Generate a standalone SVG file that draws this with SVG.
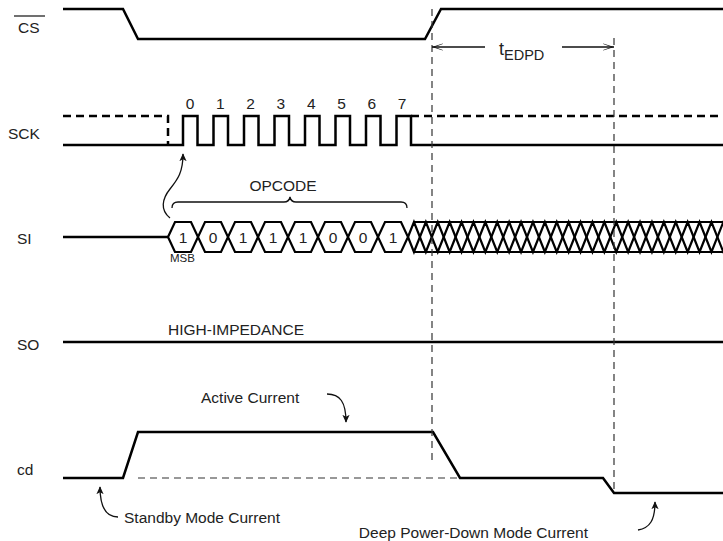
<svg xmlns="http://www.w3.org/2000/svg" xmlns:xlink="http://www.w3.org/1999/xlink" width="723" height="541" viewBox="0 0 723 541">
<style>
.w{fill:none;stroke:#000;stroke-width:2.5;stroke-linejoin:miter}
.wd{fill:none;stroke:#000;stroke-width:2.5;stroke-dasharray:8 5}
.gd{fill:none;stroke:#333;stroke-width:1.2;stroke-dasharray:7 5}
.thin{fill:none;stroke:#111;stroke-width:1.3}
.hx{fill:#fff;stroke:#000;stroke-width:2.2;stroke-linejoin:miter}
.hatch{fill:none;stroke:#000;stroke-width:2.2;stroke-linejoin:miter}
text{font-family:"Liberation Sans",Arial,sans-serif;fill:#222;font-size:15.5px}
.c{text-anchor:middle}
.sm{font-size:11.5px}
</style>
<defs>
<marker id="ah" viewBox="0 0 10 10" refX="9" refY="5" markerWidth="8" markerHeight="8" markerUnits="userSpaceOnUse" orient="auto">
<path d="M0,0.5 L10,5 L0,9.5 L2.5,5 Z" fill="#111"/>
</marker>
<marker id="ta" viewBox="0 0 12 10" refX="12" refY="5" markerWidth="12" markerHeight="9" markerUnits="userSpaceOnUse" orient="auto">
<path d="M0,1 L12,5 L0,9 L0,8.2 L9,5 L0,1.8 Z" fill="#111"/>
</marker>
<path id="hex" d="M0,0 L7,-15 L23,-15 L30,0 L23,15 L7,15 Z"/>
</defs>

<g id="labels">
<text x="18" y="32.5">CS</text>
<line x1="14" y1="16" x2="45" y2="16" stroke="#222" stroke-width="1.3"/>
<text x="8" y="138.5">SCK</text>
<text x="17" y="243.5">SI</text>
<text x="17" y="349.5">SO</text>
<text x="17" y="475">cd</text>
</g>

<g id="sig-cs">
<path class="w" d="M63,9 L123,9 L138,39 L425,39 L441,9 L723,9"/>
</g>

<g id="sig-sck">
<path class="wd" d="M63,116 L168,116 L168,145"/>
<path class="wd" d="M411,116 L723,116"/>
<path class="w" d="M63,145 L183,145 V116 H197.5 V145 H213.5 V116 H228 V145 H244 V116 H258.5 V145 H274.5 V116 H289 V145 H305 V116 H319.5 V145 H335.5 V116 H350 V145 H366 V116 H380.5 V145 H396.5 V116 H411 V145 H723"/>
<g id="sck-numbers" class="c">
<text x="190" y="108.5">0</text>
<text x="220.3" y="108.5">1</text>
<text x="250.6" y="108.5">2</text>
<text x="280.9" y="108.5">3</text>
<text x="311.2" y="108.5">4</text>
<text x="341.5" y="108.5">5</text>
<text x="371.8" y="108.5">6</text>
<text x="402.1" y="108.5">7</text>
</g>
</g>

<g id="sig-si">
<path class="w" d="M63,237 L168,237"/>
<g transform="translate(0,237)">
<use xlink:href="#hex" class="hx" x="168"/>
<use xlink:href="#hex" class="hx" x="198"/>
<use xlink:href="#hex" class="hx" x="228"/>
<use xlink:href="#hex" class="hx" x="258"/>
<use xlink:href="#hex" class="hx" x="288"/>
<use xlink:href="#hex" class="hx" x="318"/>
<use xlink:href="#hex" class="hx" x="348"/>
<use xlink:href="#hex" class="hx" x="378"/>
</g>
<g class="c">
<text x="183" y="242.5">1</text>
<text x="213" y="242.5">0</text>
<text x="243" y="242.5">1</text>
<text x="273" y="242.5">1</text>
<text x="303" y="242.5">1</text>
<text x="333" y="242.5">0</text>
<text x="363" y="242.5">0</text>
<text x="393" y="242.5">1</text>
</g>
<polyline class="hatch" points="408,237 413.95,222 425.85,252 437.75,222 449.65,252 461.55,222 473.45,252 485.35,222 497.25,252 509.15,222 521.05,252 532.95,222 544.85,252 556.75,222 568.65,252 580.55,222 592.45,252 604.35,222 616.25,252 628.15,222 640.05,252 651.95,222 663.85,252 675.75,222 687.65,252 699.55,222 711.45,252 723.35,222 735.25,252"/>
<polyline class="hatch" points="408,237 413.95,252 425.85,222 437.75,252 449.65,222 461.55,252 473.45,222 485.35,252 497.25,222 509.15,252 521.05,222 532.95,252 544.85,222 556.75,252 568.65,222 580.55,252 592.45,222 604.35,252 616.25,222 628.15,252 640.05,222 651.95,252 663.85,222 675.75,252 687.65,222 699.55,252 711.45,222 723.35,252 735.25,222"/>
<path class="hatch" d="M413.95,222 H723 M413.95,252 H723"/>
<text class="sm" x="170" y="262">MSB</text>
<path class="thin" d="M172,208 Q172,202 178,202 L284,202 Q289,202 290,197 Q291,202 296,202 L401,202 Q407,202 407,208"/>
<text class="c" x="283" y="190.5">OPCODE</text>
</g>

<g id="sig-so">
<path class="w" d="M63,342 L723,342"/>
<text x="168" y="335">HIGH-IMPEDANCE</text>
</g>

<g id="sig-icc">
<path class="gd" d="M138,478 L460,478"/>
<path class="w" d="M63,478 L123,478 L138,432 L433,432 L460,478 L603,478 L614,493 L723,493"/>
<text x="201" y="403">Active Current</text>
<text x="124" y="522.5">Standby Mode Current</text>
<text x="588" y="538" text-anchor="end">Deep Power-Down Mode Current</text>
</g>

<g id="timing">
<path class="gd" d="M432,9 L432,462"/>
<path class="gd" d="M614,38 L614,493"/>
<text x="499" y="55" style="font-size:18px">t<tspan dy="5" style="font-size:14.5px">EDPD</tspan></text>
</g>

<g id="connectors">
<path class="thin" d="M485,47 L432,47" marker-end="url(#ta)"/>
<path class="thin" d="M562,47 L614,47" marker-end="url(#ta)"/>
<path class="thin" d="M170,218 C160,210 162,199 170,189 C178,179 183,172 183,154" marker-end="url(#ah)"/>
<path class="thin" d="M327,394 C340,394 346,402 346,422" marker-end="url(#ah)"/>
<path class="thin" d="M118,517 C106,517 100,507 100,487" marker-end="url(#ah)"/>
<path class="thin" d="M638,530 C650,528 655,520 655,502" marker-end="url(#ah)"/>
</g>
</svg>
